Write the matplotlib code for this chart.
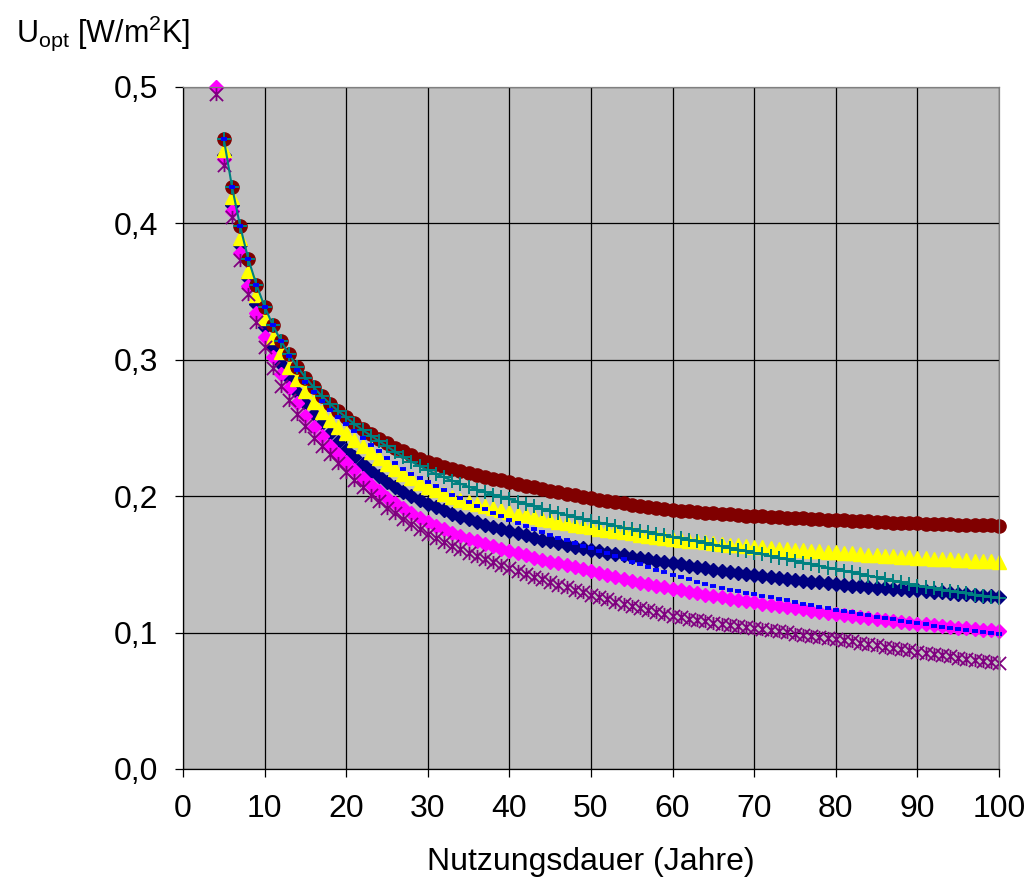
import matplotlib
matplotlib.use("Agg")
import matplotlib.pyplot as plt
from matplotlib.path import Path
from matplotlib.ticker import FuncFormatter, MultipleLocator
import numpy as np

plt.rcParams['font.family'] = ['Liberation Sans', 'DejaVu Sans']
plt.rcParams['mathtext.fontset'] = 'custom'
plt.rcParams['mathtext.rm'] = 'Liberation Sans'
plt.rcParams['mathtext.it'] = 'Liberation Sans:italic'

# Nutzungsdauer in Jahren (5..100), two series also have a point at 4
jahre = np.arange(5, 101)
jahre4 = np.arange(4, 101)

u_maroon = [
    .462, .427, .398, .374, .355, .339, .3255, .314, .304, .295,
    .287, .280, .2735, .2678, .2625, .2578, .2535, .2494, .2456, .2421,
    .2388, .2357, .2328, .2301, .2275, .2251, .2233, .2216, .2200, .2185,
    .2170, .2156, .2142, .2129, .2116, .2103, .2090, .2077, .2065, .2053,
    .2041, .2029, .2018, .2007, .1996, .1985, .1975, .1965, .1956, .1947,
    .1938, .1930, .1922, .1914, .1907, .1900, .1894, .1889, .1884, .1879,
    .1874, .1870, .1866, .1862, .1858, .1855, .1852, .1849, .1846, .1843,
    .1840, .1837, .1834, .1831, .1828, .1825, .1822, .1820, .1817, .1815,
    .1812, .1810, .1807, .1805, .1802, .1800, .1798, .1797, .1795, .1794,
    .1792, .1791, .1789, .1788, .1786, .1785,
]

u_teal = [
    .462, .427, .398, .374, .355, .339, .3255, .314, .304, .295,
    .287, .280, .2735, .2678, .2625, .2578, .2530, .2485, .2445, .2405,
    .2365, .2325, .2288, .2253, .2220, .2190, .2163, .2138, .2114, .2091,
    .2069, .2049, .2030, .2012, .1995, .1979, .1961, .1943, .1926, .1909,
    .1893, .1877, .1862, .1848, .1834, .1820, .1807, .1794, .1782, .1770,
    .1758, .1747, .1736, .1725, .1714, .1703, .1691, .1680, .1668, .1657,
    .1645, .1633, .1621, .1609, .1597, .1585, .1573, .1561, .1549, .1537,
    .1525, .1513, .1501, .1489, .1477, .1465, .1453, .1441, .1429, .1417,
    .1405, .1393, .1381, .1369, .1357, .1345, .1335, .1325, .1315, .1305,
    .1295, .1287, .1279, .1271, .1263, .1255,
]

u_blue = [
    .462, .427, .398, .374, .355, .339, .3255, .314, .3025, .2925,
    .2840, .2765, .2695, .2632, .2578, .2528, .2477, .2428, .2378, .2328,
    .2282, .2240, .2200, .2165, .2135, .2105, .2073, .2042, .2012, .1984,
    .1957, .1930, .1904, .1878, .1852, .1826, .1802, .1779, .1757, .1736,
    .1716, .1697, .1677, .1657, .1637, .1618, .1599, .1580, .1561, .1542,
    .1521, .1500, .1480, .1460, .1442, .1425, .1408, .1390, .1373, .1358,
    .1343, .1328, .1314, .1302, .1290, .1280, .1270, .1260, .1249, .1238,
    .1227, .1213, .1200, .1187, .1177, .1168, .1158, .1148, .1138, .1128,
    .1118, .1108, .1098, .1088, .1079, .1070, .1061, .1052, .1044, .1036,
    .1028, .1020, .1012, .1005, .0998, .0990,
]

u_yellow = [
    .4540, .4190, .3890, .3650, .3475, .3310, .3170, .3060, .2950, .2860,
    .2770, .2692, .2620, .2558, .2508, .2462, .2412, .2368, .2326, .2280,
    .2238, .2199, .2164, .2131, .2100, .2070, .2043, .2018, .1995, .1975,
    .1957, .1940, .1925, .1911, .1898, .1886, .1873, .1860, .1847, .1835,
    .1823, .1812, .1801, .1791, .1781, .1772, .1763, .1754, .1745, .1736,
    .1727, .1718, .1710, .1702, .1694, .1686, .1680, .1674, .1668, .1662,
    .1656, .1650, .1645, .1640, .1635, .1630, .1625, .1620, .1616, .1612,
    .1608, .1604, .1600, .1596, .1592, .1588, .1584, .1580, .1576, .1572,
    .1568, .1564, .1560, .1556, .1552, .1548, .1545, .1542, .1539, .1536,
    .1533, .1530, .1527, .1524, .1522, .1520,
]

u_navy = [
    .4500, .4135, .3840, .3600, .3410, .3240, .3097, .2972, .2867, .2766,
    .2683, .2604, .2534, .2466, .2400, .2340, .2285, .2235, .2188, .2145,
    .2105, .2068, .2033, .2000, .1970, .1945, .1920, .1896, .1873, .1851,
    .1830, .1810, .1792, .1775, .1759, .1744, .1728, .1712, .1697, .1682,
    .1668, .1654, .1641, .1629, .1617, .1606, .1596, .1586, .1576, .1566,
    .1556, .1546, .1537, .1528, .1519, .1510, .1500, .1490, .1480, .1471,
    .1462, .1453, .1444, .1436, .1428, .1420, .1413, .1406, .1399, .1392,
    .1386, .1380, .1374, .1368, .1362, .1356, .1350, .1345, .1340, .1335,
    .1330, .1326, .1322, .1318, .1314, .1310, .1306, .1301, .1296, .1291,
    .1286, .1281, .1276, .1271, .1267, .1263,
]

u_magenta = [
    .5000,
    .4470, .4090, .3785, .3540, .3345, .3167, .3020, .2894, .2790, .2681,
    .2591, .2510, .2438, .2370, .2310, .2250, .2192, .2135, .2082, .2035,
    .1990, .1948, .1910, .1874, .1841, .1810, .1783, .1757, .1733, .1710,
    .1689, .1669, .1650, .1632, .1615, .1599, .1582, .1566, .1550, .1535,
    .1521, .1507, .1493, .1479, .1465, .1452, .1437, .1422, .1408, .1394,
    .1380, .1367, .1355, .1343, .1331, .1320, .1309, .1298, .1288, .1278,
    .1268, .1258, .1248, .1239, .1230, .1221, .1211, .1202, .1194, .1186,
    .1178, .1170, .1162, .1154, .1146, .1138, .1130, .1122, .1115, .1108,
    .1101, .1094, .1087, .1080, .1073, .1066, .1060, .1054, .1048, .1042,
    .1037, .1032, .1027, .1022, .1017, .1012,
]

u_purple = [
    .4950,
    .4430, .4050, .3730, .3480, .3280, .3096, .2937, .2808, .2705, .2602,
    .2516, .2430, .2365, .2310, .2240, .2178, .2118, .2064, .2012, .1962,
    .1917, .1875, .1834, .1796, .1760, .1725, .1694, .1665, .1637, .1610,
    .1585, .1561, .1538, .1516, .1495, .1474, .1452, .1431, .1410, .1390,
    .1370, .1351, .1332, .1314, .1296, .1278, .1260, .1243, .1226, .1210,
    .1194, .1179, .1164, .1150, .1136, .1122, .1112, .1102, .1092, .1083,
    .1074, .1065, .1057, .1049, .1041, .1034, .1025, .1017, .1009, .1001,
    .0993, .0985, .0977, .0969, .0961, .0953, .0944, .0935, .0925, .0916,
    .0906, .0897, .0888, .0878, .0869, .0860, .0851, .0843, .0834, .0826,
    .0817, .0809, .0800, .0792, .0783, .0775,
]

# asterisk marker like the Excel "star"
stern = Path([(-1, -1), (1, 1), (-1, 1), (1, -1), (0, -1), (0, 1)],
             [Path.MOVETO, Path.LINETO, Path.MOVETO, Path.LINETO,
              Path.MOVETO, Path.LINETO])

fig = plt.figure(figsize=(10.32, 8.90), dpi=100)
ax = fig.add_axes([183 / 1032, 121 / 890, 816 / 1032, 682 / 890])
ax.set_facecolor("#C0C0C0")

kw = dict(linestyle="none", clip_on=False)
ax.plot(jahre, u_navy, marker="D", ms=7.4, color="#000080", **kw)
ax.plot(jahre4, u_magenta, marker="D", ms=7.4, color="#FF00FF", **kw)
ax.plot(jahre, u_yellow, marker="^", ms=10.5, color="#FFFF00", **kw)
ax.plot(jahre4, u_purple, marker=stern, ms=9.5, color="#800080",
        mfc="none", mew=1.3, **kw)
ax.plot(jahre, u_maroon, marker="o", ms=9.5, color="#800000", **kw)
ax.plot(jahre, u_teal, marker="+", ms=10.5, mew=1.4, color="#008080",
        linestyle="-", lw=1.5, clip_on=False)
ax.plot(jahre, u_blue, marker="_", ms=4.8, mew=2.8, color="#0000FF", **kw)

ax.set_xlim(0, 100)
ax.set_ylim(0, 0.5)
ax.xaxis.set_major_locator(MultipleLocator(10))
ax.yaxis.set_major_locator(MultipleLocator(0.1))
ax.yaxis.set_major_formatter(FuncFormatter(lambda v, p: f"{v:.1f}".replace(".", ",")))

ax.grid(True, color="black", lw=0.9)
ax.set_axisbelow(True)
for s in ("top", "right"):
    ax.spines[s].set_color("#808080")
for s in ("left", "bottom"):
    ax.spines[s].set_color("black")
for s in ax.spines.values():
    s.set_linewidth(0.9)

ax.tick_params(axis="both", direction="out", length=6, width=0.9,
               labelsize=23, color="black")
ax.tick_params(axis="x", pad=12)
ax.tick_params(axis="y", pad=12)

ax.set_xlabel("Nutzungsdauer (Jahre)", fontsize=23, va="top")
ax.xaxis.set_label_coords(0.5, -0.115)
fig.text(16 / 1032, 1 - 33 / 890, r"U$_\mathrm{opt}$ [W/m$^\mathrm{2}$K]",
         fontsize=22, va="center", ha="left")

fig.savefig("out.png", dpi=100)
